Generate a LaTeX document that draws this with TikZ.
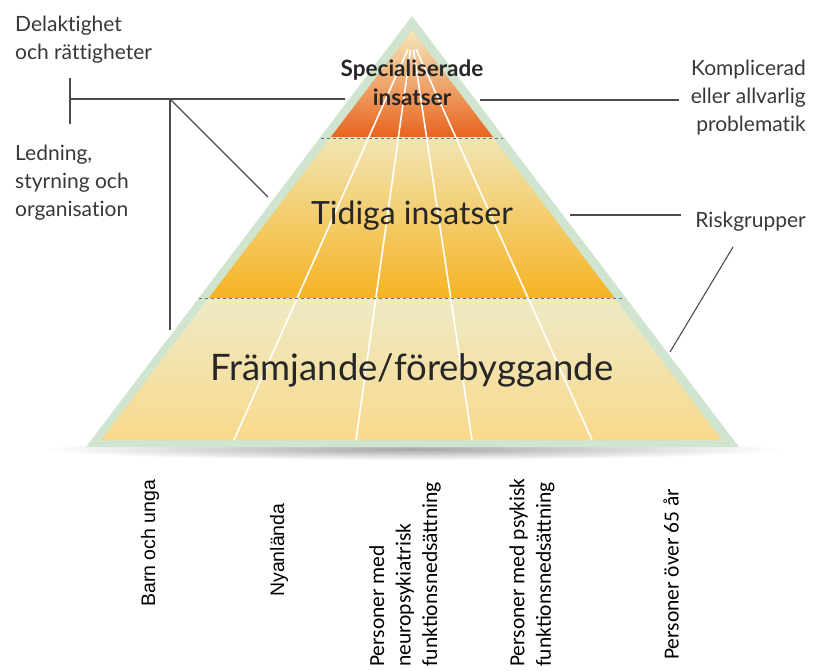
\documentclass[tikz,border=0pt]{standalone}
\usepackage{fontspec}
\setmainfont[Ligatures=NoCommon]{Lato}
\newfontfamily\calfont{Carlito}
\newfontfamily\arialfont{Liberation Sans}
\usetikzlibrary{positioning}

\definecolor{edgeGreen}{HTML}{CFE5D0}
\definecolor{paleTop}{HTML}{F5E8BC}
\definecolor{specOrange}{HTML}{E8621C}
\definecolor{specMid}{HTML}{F0A060}
\definecolor{tidPale}{HTML}{F1E5B4}
\definecolor{tidAmber}{HTML}{F6B424}
\definecolor{framPale}{HTML}{EEEAC6}
\definecolor{framYellow}{HTML}{F9D98C}

\begin{document}
\begin{tikzpicture}[x=1pt, y=-1pt,
		lbl/.style={text=black!78, font=\fontsize{21}{28}\selectfont, inner sep=0pt},
		grp/.style={text=black, font=\calfont\fontsize{21.5}{26.5}\selectfont, rotate=90, anchor=west, align=left, inner sep=0pt},
		lead/.style={draw=black!70, line width=1.1pt}]
			\useasboundingbox (0,0) rectangle (816,671);
			
			% shadow and outer border
			\shade[inner color=black!35, outer color=white] (412,449) ellipse (370 and 11);
			\fill[edgeGreen] (412,16) -- (86,447) -- (739,447) -- cycle;
			
			% tiers
			\begin{scope}
				\clip (412,30) -- (101,440) -- (722,440) -- cycle;
				\shade[top color=paleTop, middle color=specMid, bottom color=specOrange] (90,30) rectangle (740,138);
				\shade[top color=tidPale, bottom color=tidAmber] (90,138) rectangle (740,298);
				\shade[top color=framPale, bottom color=framYellow] (90,298) rectangle (740,440);
				\foreach \x in {234,356,472,592}{
					
					\draw[white, line width=1.6pt, shorten <=10pt] (412,40) -- (\x,440);
				}
			\end{scope}
			\draw[black!55, dashed, line width=0.6pt] (321,138) -- (503,138);
			\draw[black!55, dashed, line width=0.6pt] (199,298) -- (625,298);
			
			% tier texts
			\node[text=black!85, font=\bfseries\fontsize{22.5}{29}\selectfont, align=center] (spec) at (412,83) {Specialiserade\\insatser};
			\node[text=black!85, font=\fontsize{32}{34}\selectfont] (tid) at (412,216) {Tidiga insatser};
			\node[text=black!85, font=\fontsize{36.5}{38}\selectfont] (fram) at (412,370) {Främjande/förebyggande};
			
			% side labels
			\node[lbl, anchor=north west, align=left] (del) at (15,16) {Delaktighet\\och rättigheter};
			\node[lbl, anchor=north west, align=left] (led) at (15,145) {Ledning,\\styrning och\\organisation};
			\node[lbl, anchor=north east, align=right] (komp) at (806,60) {Komplicerad\\eller allvarlig\\problematik};
			\node[lbl, anchor=base east] (risk) at (806,227) {Riskgrupper};
			
			% connectors
			\coordinate (tl) at (70,78);
			\coordinate (bl) at (70,124);
			\coordinate (jl) at (170,99);
			\coordinate (vl) at (170,330);
			\coordinate (dl) at (268,197);
			\coordinate (hl) at (345,99);
			\coordinate (hr) at (480,100);
			\coordinate (rr) at (570,215);
			\coordinate (dr) at (670,352);
			\coordinate (dt) at (733,247);
			\draw[lead] (tl) -- (bl);
			\draw[lead] (70,99) -- (hl);
			\draw[lead] (jl) -- (vl);
			\draw[lead] (jl) -- (dl);
			\draw[lead] (hr) -- ([xshift=-12pt]komp.west |- hr);
			\draw[lead] (rr) -- ([xshift=-14pt]risk.west |- rr);
			\draw[lead] (dt) -- (dr);
			
			% target groups
			\node[grp, font=\arialfont\fontsize{19.5}{24}\selectfont] (barn) at (150,607) {Barn och unga};
			\node[grp, font=\arialfont\fontsize{19.5}{24}\selectfont] (nyan) at (279,597) {Nyanlända};
			\node[grp] (neuro) at (405,667) {Personer med\\neuropsykiatrisk\\funktionsnedsättning};
			\node[grp] (psyk) at (532,667) {Personer med psykisk\\funktionsnedsättning};
			\node[grp] (aldre) at (671,660) {Personer över 65 år};
		\end{tikzpicture}
\end{document}
